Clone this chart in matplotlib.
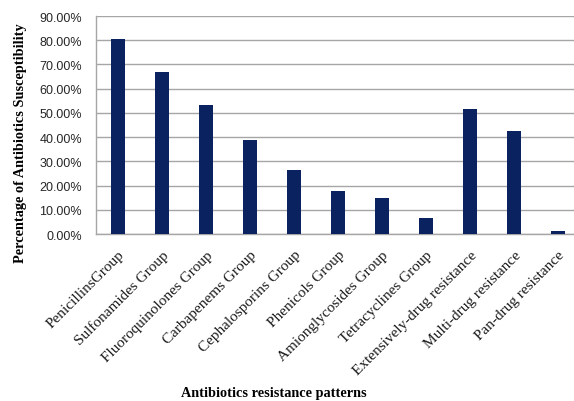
import matplotlib.pyplot as plt
from matplotlib.ticker import PercentFormatter

categories = ['PenicillinsGroup', 'Sulfonamides Group', 'Fluoroquinolones Group',
              'Carbapenems Group', 'Cephalosporins Group', 'Phenicols Group',
              'Amionglycosides Group', 'Tetracyclines Group',
              'Extensively-drug resistance', 'Multi-drug resistance',
              'Pan-drug resistance']
susceptibility = [80.5, 67.0, 53.4, 38.9, 26.3, 17.6, 15.0, 6.7, 51.7, 42.4, 1.4]

fig = plt.figure(figsize=(5.74, 4.02), dpi=100)
ax = fig.add_axes([0.1672, 0.4154, 0.8433, 0.5423])

x = range(len(categories))
ax.bar(x, susceptibility, width=0.3, color='#0b2260', zorder=3)

ax.set_xlim(-0.5, len(categories) - 0.5)
ax.set_ylim(0, 90)
ax.set_yticks(range(0, 91, 10))
ax.yaxis.set_major_formatter(PercentFormatter(decimals=2))
ax.grid(axis='y', color='#a6a6a6', linewidth=1.0, zorder=0)

for side in ('top', 'right'):
    ax.spines[side].set_visible(False)
for side in ('left', 'bottom'):
    ax.spines[side].set_color('#a6a6a6')
    ax.spines[side].set_linewidth(1.0)

ax.tick_params(axis='both', length=0)
ax.tick_params(axis='y', pad=10)
for lab in ax.get_yticklabels():
    lab.set_fontfamily('Liberation Sans')
    lab.set_fontsize(9)
    lab.set_color('#262626')

ax.set_xticks(list(x))
ax.set_xticklabels(categories, rotation=45, ha='right', rotation_mode='anchor',
                   fontfamily='Liberation Serif', fontsize=11, color='#1a1a1a')
ax.tick_params(axis='x', pad=10)

fig.text(0.035, 0.644, 'Percentage of Antibiotics Susceptibility', rotation=90,
         ha='center', va='center', fontfamily='Liberation Serif',
         fontweight='bold', fontsize=10.3)
fig.text(0.477, 0.022, 'Antibiotics resistance patterns', ha='center', va='center',
         fontfamily='Liberation Serif', fontweight='bold', fontsize=10.3)

fig.savefig('out.png', dpi=100)
